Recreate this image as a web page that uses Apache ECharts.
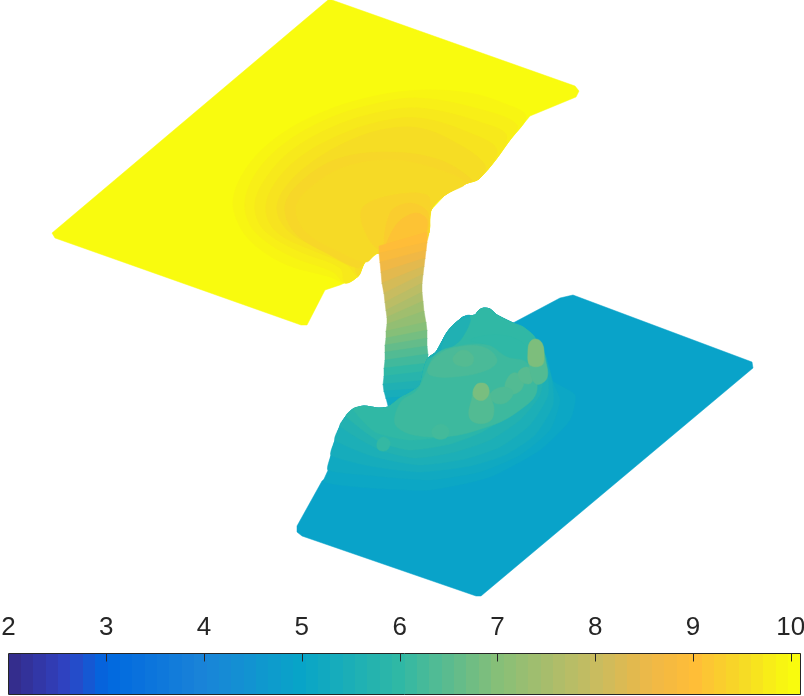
<!DOCTYPE html>
<html>
<head>
<meta charset="utf-8">
<style>
  html, body { margin: 0; padding: 0; background: #fff; }
  #main { width: 804px; height: 696px; }
</style>
<script src="https://cdn.jsdelivr.net/npm/echarts@6/dist/echarts.min.js"></script>
</head>
<body>
<div id="main"></div>
<script>
// colour scale: [value, colour]
const scaleStops = [[2,'#352a87'],[2.6,'#2f43c3'],[3,'#0068e0'],[4,'#1a84d8'],[5,'#08a5c8'],[6,'#30b8a5'],[7,'#86bf78'],[8,'#c8bc60'],[8.6,'#f0b845'],[9,'#ffbd38'],[9.5,'#f6da26'],[10,'#f9fb0e'],[10.1,'#f9fb0e']];
const tickValues = [2,3,4,5,6,7,8,9,10];
const barRange = [2, 10.1];
const barSteps = 64;

// surface outlines, projected [x, y] as seen in the view
const topPlate = [[328,0],[332,0],[575,86],[579,91],[576,97],[530,116],[510,140],[480,178],[465,184],[445,195],[431,210],[428,235],[410,262],[378,253],[365,262],[358,277],[340,285],[325,290],[307,325],[301,325],[55,238],[52,233]];
const plateEdge = [[330,286],[345,283],[358,276],[365,262],[378,253],[410,255],[428,235],[431,210],[445,195],[465,184],[480,178],[510,140]];
const ring1 = [[526,116],[503,103],[470,93],[420,90],[370,97],[320,113],[277,137],[247,167],[233,200],[240,227],[257,247],[287,265],[330,277]];
const ring2 = [[517,125],[490,112],[420,98],[370,105],[325,120],[285,143],[258,170],[245,200],[250,225],[268,243],[295,258],[333,272]];
const ring3 = [[507,137],[480,122],[420,108],[375,113],[330,128],[292,150],[268,175],[255,202],[260,225],[277,240],[303,253],[340,268]];
const ring4 = [[497,150],[470,133],[420,118],[378,122],[335,137],[300,157],[277,180],[266,204],[270,224],[285,238],[312,250],[347,265]];
const ring5 = [[485,165],[460,145],[420,128],[380,130],[340,145],[308,165],[287,185],[277,205],[281,222],[296,237],[320,248],[352,262]];
const ridge = [[472,180],[440,160],[390,152],[340,158],[305,178],[285,205],[295,233],[330,255],[358,268]];
const ridgeInner = [[465,183],[430,167],[390,160],[345,167],[310,188],[296,208],[306,232],[340,252],[366,262]];
const blob1 = [[363,207],[393,195],[427,195],[430,210],[423,247],[380,250],[363,227]];
const blob2 = [[390,213],[410,203],[428,213],[423,240],[387,253]];
const blob3 = [[396,225],[415,213],[427,220],[422,240],[395,255],[384,255]];

const lowerPlate = [[322,481],[297,526],[297,532],[302,536],[476,596],[481,596],[753,368],[752,362],[573,295],[560,298],[513,323],[450,340],[420,400]];

// neck bands: [level, xLeft, yLeft, xRight, yRight]
const neckBands = [
  [9.0,379,246,427,232],[8.85,379,253,427,242],[8.6,380,262,426,250],[8.4,381,272,425,258],[8.2,382,283,424,266],
  [8.0,384,293,423,274],[7.8,385,302,422,283],[7.6,386,310,422,292],[7.4,387,317,423,301],[7.2,387,324,424,311],
  [7.0,386,331,426,322],[6.8,386,338,427,330],[6.6,385,345,427,338],[6.4,385,352,427,346],[6.2,385,360,428,354],
  [6.0,384,368,428,363],[5.8,384,376,428,371],[5.6,383,384,428,380],[5.4,384,391,428,388],[5.2,386,398,428,395],
  [5.05,388,405,428,400]
];

// rim of the hill, from lower left round the top to the right
const hillRim = [[324,482],[328,470],[331,455],[335,440],[340,426],[346,416],[353,409],[364,406],[378,408],[388,407],[400,398],[411,392],[420,385],[424,368],[428,358],[436,352],[448,331],[463,317],[475,315],[479,310],[484,308],[490,309],[497,315],[513,323],[523,327],[535,338],[546,358],[552,380]];
// fade levels: [level, rimFrom, rimTo]
const hillFade = [[5.1,0,28],[5.2,1,28],[5.35,2,28],[5.5,3,27],[5.65,4,27],[5.85,5,26],[6.0,6,26]];
const fadeArcs = [
  [[575,395],[570,420],[540,450],[490,477],[430,490],[370,488]],
  [[560,400],[550,430],[520,455],[480,472],[430,480],[375,476]],
  [[553,405],[535,435],[505,455],[470,466],[420,472],[370,466]],
  [[548,395],[530,425],[500,447],[465,459],[420,465],[375,457]],
  [[540,395],[520,420],[490,440],[455,452],[415,458],[380,450]],
  [[535,380],[512,412],[482,432],[450,444],[410,450],[380,442]],
  [[525,385],[505,405],[478,424],[445,436],[410,440],[375,432]]
];
const backWedge = [[428,358],[436,352],[448,331],[463,317],[470,316],[455,340],[445,350]];
const backWedge2 = [[452,326],[470,318],[462,338],[450,348],[441,352]];
const backRidge = [[470,340],[500,335],[525,345],[527,362],[507,357],[487,345]];
const frontHill = [[427,370],[435,355],[453,347],[487,345],[507,357],[527,363],[537,390],[520,410],[487,427],[437,437],[397,427],[400,403],[417,390]];
const plateau = [[428,368],[437,356],[453,348],[483,347],[497,360],[487,370],[453,377],[430,375]];
const lobeA = [[453,358],[463,350],[473,356],[471,365],[457,365]];
const lobeB = [[505,385],[513,373],[523,378],[521,390],[509,394]];
const lobeC = [[518,373],[526,367],[533,372],[531,383],[522,382]];
const lobeD = [[490,394],[503,387],[513,392],[507,402],[495,403]];
const lobeE = [[377,443],[383,437],[390,442],[387,450],[379,450]];
const lobeF = [[432,430],[441,424],[449,430],[446,438],[435,438]];
const fingerBaseA = [[469,416],[472,398],[475,388],[487,388],[491,398],[494,410],[490,421],[476,423]];
const fingerTopA = [[473,393],[476,385],[481,383],[487,385],[489,393],[484,400],[476,399]];
const fingerBaseB = [[529,366],[529,345],[535,340],[541,343],[545,358],[547,378],[536,384]];
const fingerTopB = [[528,352],[530,342],[536,339],[542,343],[544,354],[542,365],[530,365]];

// draw order back to front: [level, outline]
const flatPatches = [[10,topPlate]];
const smoothPatches = [
  [9.91,ring1],[9.82,ring2],[9.73,ring3],[9.64,ring4],[9.55,ring5],[9.44,ridge],[9.5,ridgeInner],
  [9.4,blob1],[9.28,blob2],[9.1,blob3]
];
const hillPatches = [
  [5.4,backWedge],[5.6,backWedge2],[5.98,backRidge],[6.15,frontHill],[6.3,plateau],
  [6.42,lobeA],[6.4,lobeB],[6.45,lobeC],[6.35,lobeD],[6.05,lobeE],[6.22,lobeF],
  [6.4,fingerBaseA],[6.85,fingerTopA],[6.4,fingerBaseB],[6.9,fingerTopB]
];

function parse(c) { return [1,3,5].map(i => parseInt(c.substr(i,2),16)); }
function colorOf(v) {
  for (let i = 1; i < scaleStops.length; i++) {
    if (v <= scaleStops[i][0]) {
      const a = scaleStops[i-1], b = scaleStops[i], t = (v-a[0])/(b[0]-a[0]);
      const ca = parse(a[1]), cb = parse(b[1]);
      return 'rgb(' + ca.map((x,k) => Math.round(x+(cb[k]-x)*t)).join(',') + ')';
    }
  }
  return scaleStops[scaleStops.length-1][1];
}

const chart = echarts.init(document.getElementById('main'));

// edges of the rings follow the plate edge
function closeOnEdge(outline) {
  const last = outline[outline.length-1], first = outline[0];
  const inner = plateEdge.filter(p => p[0] > last[0] && p[0] < first[0]);
  return outline.concat(inner);
}

const allBack = smoothPatches.map(p => [p[0], closeOnEdge(p[1])]);
const neckQuads = neckBands.slice(0,-1).map((b,i) => {
  const n = neckBands[i+1];
  return [b[0], [[b[1],b[2]],[b[3],b[4]],[n[3],n[4]+1],[n[1],n[2]+1]]];
});
const fadePatches = hillFade.map((f,i) => [f[0], hillRim.slice(f[1],f[2]).concat(fadeArcs[i])]);

function patchSeries(patches, smooth) {
  return {
    type: 'custom',
    xAxisIndex: 0,
    yAxisIndex: 0,
    silent: true,
    clip: false,
    data: patches.map((p,i) => [p[0], i]),
    renderItem: function (params, api) {
      const i = params.dataIndex;
      return {
        type: 'polygon',
        shape: { points: patches[i][1].map(pt => api.coord(pt)), smooth: smooth },
        style: { fill: colorOf(api.value(0)), stroke: colorOf(api.value(0)), lineWidth: 0.5 }
      };
    }
  };
}

const step = (barRange[1]-barRange[0])/barSteps;
const barCells = [];
for (let i = 0; i < barSteps; i++) barCells.push([barRange[0]+i*step, barRange[0]+(i+1)*step]);

chart.setOption({
  animation: false,
  grid: [
    { left: 0, top: 0, width: 804, height: 696, outerBoundsMode: 'none' },
    { left: 8.5, top: 653.5, width: 792, height: 41, show: true, borderColor: '#262626', borderWidth: 1, backgroundColor: 'transparent', z: 5, outerBoundsMode: 'none' }
  ],
  xAxis: [
    { type: 'value', min: 0, max: 804, show: false },
    {
      type: 'value', gridIndex: 1, position: 'top', min: barRange[0], max: barRange[1],
      axisLine: { show: false },
      splitLine: { show: false },
      axisTick: { show: false },
      axisLabel: { show: true, customValues: tickValues, margin: 13, fontSize: 26, color: '#262626', fontFamily: 'Liberation Sans', hideOverlap: false, showMinLabel: true, showMaxLabel: true }
    }
  ],
  yAxis: [
    { type: 'value', min: 0, max: 696, inverse: true, show: false },
    { type: 'value', gridIndex: 1, min: 0, max: 1, show: false }
  ],
  series: [
    patchSeries(flatPatches, 0),
    patchSeries(allBack, 0.35),
    patchSeries([[4.95,lowerPlate]], 0),
    patchSeries(neckQuads, 0),
    patchSeries(fadePatches, 0.2),
    patchSeries(hillPatches, 0.4),
    {
      type: 'custom',
      xAxisIndex: 1,
      yAxisIndex: 1,
      silent: true,
      z: 1,
      data: barCells,
      renderItem: function (params, api) {
        const p0 = api.coord([api.value(0), 1]);
        const p1 = api.coord([api.value(1), 0]);
        return {
          type: 'rect',
          shape: { x: Math.round(p0[0]), y: p0[1], width: Math.round(p1[0])-Math.round(p0[0]), height: p1[1]-p0[1] },
          style: { fill: colorOf((api.value(0)+api.value(1))/2) }
        };
      }
    },
    {
      // ticks on the top edge of the bar, skip the one sitting on the left border
      type: 'custom',
      xAxisIndex: 1,
      yAxisIndex: 1,
      silent: true,
      z: 4,
      data: tickValues.slice(1).map(v => [v, 1]),
      renderItem: function (params, api) {
        const p = api.coord([api.value(0), 1]);
        const x = Math.round(p[0]) + 0.5;
        return {
          type: 'line',
          shape: { x1: x, y1: p[1], x2: x, y2: p[1] + 8 },
          style: { stroke: '#262626', lineWidth: 1 }
        };
      }
    }
  ]
});
</script>
</body>
</html>
